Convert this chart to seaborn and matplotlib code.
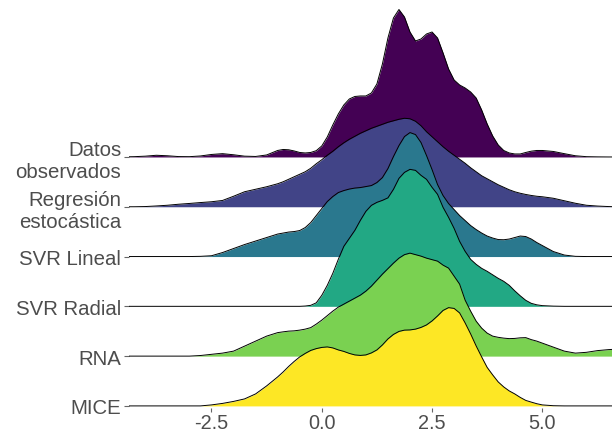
import numpy as np
import pandas as pd
import matplotlib
matplotlib.use("Agg")
import matplotlib.pyplot as plt
import seaborn as sns

# --- Data (ridge heights, arbitrary density units) ---
categories = ["Datos\nobservados", "Regresión\nestocástica", "SVR Lineal",
              "SVR Radial", "RNA", "MICE"]

x_vals = [-4.37, -4.25, -4.0, -3.75, -3.5, -3.25, -3.0, -2.75, -2.5, -2.25, -2.0, -1.75, -1.5, -1.25,
          -1.0, -0.875, -0.75, -0.625, -0.5, -0.375, -0.25, -0.125,
          0.0, 0.125, 0.25, 0.375, 0.5, 0.625, 0.75, 0.875,
          1.0, 1.125, 1.25, 1.375, 1.5, 1.625, 1.75, 1.875,
          2.0, 2.125, 2.25, 2.375, 2.5, 2.625, 2.75, 2.875,
          3.0, 3.125, 3.25, 3.375, 3.5, 3.625, 3.75, 3.875,
          4.0, 4.125, 4.25, 4.375, 4.5, 4.625, 4.75, 4.875, 5.0,
          5.25, 5.5, 5.75, 6.0, 6.25, 6.5, 6.58]

datos_obs = [0.2, 0.3, 0.8, 1.7, 1.2, 0.4, 0.3, 1.0, 2.5, 3.3, 2.2, 0.8, 0.5, 2.0,
             6.5, 7.5, 7.2, 6, 4.5, 4, 4.5, 6.3,
             11, 20, 32, 43, 52, 58, 60.5, 61,
             61, 64, 73, 93, 119, 139, 147.5, 140,
             125, 116, 118, 123, 125, 119, 104, 88,
             77, 72, 69, 65, 59, 47, 33, 21,
             12, 6.5, 4, 3, 3, 4.5, 5.8, 6.5, 6.5,
             5.5, 3.3, 1.2, 0.3, 0.1, 0, 0]
regresion = [0, 0, 0.2, 0.8, 1.5, 2.5, 3.3, 4.2, 5.0, 6.3, 10.5, 15, 17.5, 20,
             23, 25, 27.5, 30, 32.5, 35, 38.5, 43,
             47, 51.5, 55.5, 60, 64, 67.5, 70.5, 73.5,
             76, 78.5, 80.5, 82.5, 84.5, 86, 87.5, 88.5,
             88, 85.5, 81, 75, 70, 65, 60, 55.5,
             51.5, 47.5, 43.5, 39, 35, 31, 28, 25,
             22, 19.5, 17, 15, 13.5, 12.3, 11.3, 10.5, 10,
             8.5, 6, 3.5, 1.5, 0.7, 0.2, 0.1]
svr_lineal = [0, 0, 0, 0, 0, 0, 0, 0.2, 0.8, 4, 8, 12, 15.5, 19,
              22.5, 23.5, 24.5, 25, 26, 29, 34, 41,
              48, 55, 60, 64, 66, 67.5, 68.5, 69,
              70, 71, 74, 79, 88, 100, 111, 120,
              124, 122, 114, 101, 87, 72, 61, 53,
              47, 41, 36, 31, 27, 23.5, 20.5, 18.5,
              17, 16.8, 17.5, 19, 20.5, 20, 17.5, 14, 11,
              5, 1.5, 0.2, 0, 0, 0, 0]
svr_radial = [0, 0, 0, 0, 0, 0, 0, 0, 0, 0, 0, 0, 0, 0,
              0, 0, 0, 0, 0, 0.3, 1, 3.5,
              11, 21, 33, 47, 60, 68, 76, 86,
              95, 101, 104, 106, 108.5, 117, 128, 134,
              137, 136, 131, 127, 119, 112, 99, 89,
              78, 65, 55, 47, 42, 38, 35, 31.5,
              28, 25, 21, 15.5, 10.5, 6, 3, 1.5, 0.7,
              0.2, 0, 0, 0, 0, 0, 0]
rna = [0, 0, 0, 0, 0, 0, 0, 0.6, 1.8, 3, 5, 10, 15, 20,
       23.5, 24.3, 25, 25.3, 26, 27, 28.5, 32,
       36, 40.5, 45, 49, 52, 55, 58, 61,
       65, 70, 76, 82, 87.5, 93, 98, 101.5,
       103, 101.5, 100, 98, 96.5, 95, 91, 88,
       80, 72, 56, 45, 35, 28, 23, 20,
       18.8, 18, 17.5, 17.7, 18.3, 18.5, 16.5, 15, 13,
       9, 5, 3, 3.8, 5.5, 6.5, 6.7]
mice = [0, 0, 0, 0, 0, 0, 0, 0, 1, 2.5, 4.5, 7, 12, 20,
        29, 34, 39.5, 44.5, 49, 52.5, 55.5, 57.3,
        58.5, 59, 58, 56, 54.5, 52.5, 51, 50.5,
        51, 53, 56, 61, 67, 71.5, 74.5, 75.8,
        76, 76.8, 78.5, 81, 85, 90, 95.5, 98.3,
        97.5, 93, 83, 72, 60, 49, 38.5, 31,
        24, 19, 15, 12, 8.5, 5.5, 3.8, 2.2, 1,
        0.2, 0, 0, 0, 0, 0, 0]

series = [datos_obs, regresion, svr_lineal, svr_radial, rna, mice]
x_ticks = [-2.5, 0.0, 2.5, 5.0]
x_tick_labels = ["-2.5", "0.0", "2.5", "5.0"]

sns.set_theme(style="white")
plt.rcParams["font.family"] = ["Liberation Sans", "DejaVu Sans"]

# viridis, end points included (as ggplot's scale_fill_viridis_d)
colors = ["#440154", "#414487", "#2A788E", "#22A884", "#7AD151", "#FDE725"]
scale = 1 / 49.8  # ridge height relative to row spacing

fig = plt.figure(figsize=(6.12, 4.35), dpi=100)
ax = fig.add_axes([0.2108, 0.06, 0.7892, 0.94])

n = len(categories)
for i, (name, vals) in enumerate(zip(categories, series)):
    base = n - 1 - i
    df = pd.DataFrame({"x": x_vals, "y": base + np.array(vals) * scale})
    ax.fill_between(df["x"], base, df["y"], color=colors[i], linewidth=0, zorder=2 * i + 1)
    sns.lineplot(data=df, x="x", y="y", ax=ax, color="black", linewidth=0.7,
                 estimator=None, sort=False, zorder=2 * i + 2)

ax.set_xlim(-4.37, 6.58)
ax.set_ylim(-0.04, n - 1 + 158 / 49.8)
ax.set_yticks(range(n))
ax.set_yticklabels(categories[::-1])
ax.set_xticks(x_ticks)
ax.set_xticklabels(x_tick_labels)
ax.set_xlabel("")
ax.set_ylabel("")
for s in ax.spines.values():
    s.set_visible(False)
ax.tick_params(axis="both", which="major", length=3.5, width=0.8, color="#666666",
               labelsize=14.7, labelcolor="#4D4D4D", pad=2, bottom=True, left=True)
ax.tick_params(axis="x", length=3, pad=1, labelsize=14.3)
ax.grid(False)

plt.savefig("out.png", dpi=100)
plt.close()
